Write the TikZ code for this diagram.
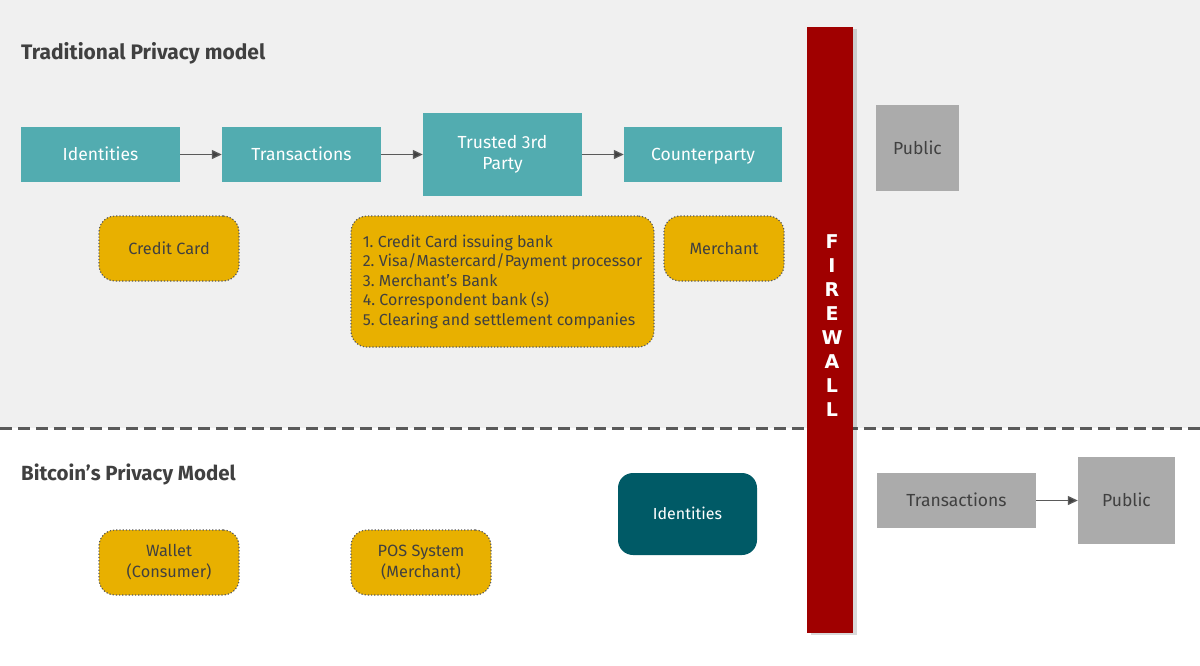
\documentclass[tikz,border=0pt]{standalone}
\usepackage{fontspec}
\setmainfont{Fira Sans}
\newfontfamily\fwfont{DejaVu Sans}
\usetikzlibrary{arrows.meta,shadows}
\definecolor{bgtop}{HTML}{F0F0F0}
\definecolor{tealbox}{HTML}{52ACB0}
\definecolor{darkteal}{HTML}{005A66}
\definecolor{gold}{HTML}{E8B000}
\definecolor{fwred}{HTML}{A00000}
\definecolor{grbox}{HTML}{ABABAB}
\definecolor{txtdark}{HTML}{404040}
\definecolor{linegr}{HTML}{5A5A5A}
\tikzset{
  tealnode/.style={draw=none, fill=tealbox, text=white, minimum width=159pt, minimum height=55pt, inner sep=2pt, align=center, font=\fontsize{17.5}{21}\selectfont},
  goldnode/.style={draw=linegr, dotted, line width=1.2pt, fill=gold, text=txtdark, rounded corners=16pt, minimum width=140pt, minimum height=65pt, align=center, font=\fontsize{16.3}{21}\selectfont},
  graynode/.style={draw=none, fill=grbox, text=txtdark, align=center, font=\fontsize{17.5}{21}\selectfont},
  oneline/.style={text height=#1, text depth=0pt},
  oneline/.default=12pt,
  flowarrow/.style={draw=linegr, line width=1.3pt, -{Triangle[length=10pt,width=9pt,fill=txtdark]}},
  titletext/.style={anchor=west, inner sep=0pt, text=txtdark, font=\bfseries\fontsize{21}{24}\selectfont}
}
\begin{document}
\frenchspacing
\begin{tikzpicture}[x=1pt,y=-1pt]
\useasboundingbox (0,0) rectangle (1200,665);
\fill[bgtop] (0,0) rectangle (1200,428);
\fill[white] (0,428) rectangle (1200,665);
\draw[linegr, line width=3pt, dash pattern=on 12pt off 6pt] (0,428) -- (1200,428);

\node[titletext] (t1) at (21,53) {Traditional Privacy model};
\node[titletext, font=\bfseries\fontsize{20.5}{24}\selectfont] (t2) at (21,474) {Bitcoin’s Privacy Model};

\node[tealnode, oneline] (id) at (100.5,154.5) {Identities};
\node[tealnode, oneline] (tr) at (301.5,154.5) {Transactions};
\node[tealnode, minimum height=83pt] (tp) at (502.5,154.5) {Trusted 3rd\\Party};
\node[tealnode, oneline, minimum width=158pt] (cp) at (703,154.5) {Counterparty};
\draw[flowarrow] (id.east) -- (tr.west);
\draw[flowarrow] (tr.east) -- (tp.west);
\draw[flowarrow] (tp.east) -- (cp.west);

\node[goldnode, oneline=11.2pt] (cc) at (169,248.5) {Credit Card};
\node[goldnode, minimum width=303pt, minimum height=131pt, align=left, font=\fontsize{16}{19.5}\selectfont, inner sep=0pt] (list) at (502.5,281.5) {1. Credit Card issuing bank\\2. Visa/Mastercard/Payment processor\\3. Merchant’s Bank\\4. Correspondent bank (s)\\5. Clearing and settlement companies};
\node[goldnode, oneline=11.2pt, minimum width=120pt] (mc) at (724,248.5) {Merchant};

\node[goldnode] (wal) at (169,562.5) {Wallet\\(Consumer)};
\node[goldnode] (pos) at (421,562.5) {POS System\\(Merchant)};
\node[draw=none, fill=darkteal, text=white, rounded corners=15pt, minimum width=139pt, minimum height=82pt, oneline=11pt, font=\fontsize{16}{20}\selectfont] (id2) at (687.5,514) {Identities};

\node[fill=fwred, minimum width=46pt, minimum height=606pt, inner sep=0pt, drop shadow={shadow xshift=4pt, shadow yshift=-2pt, opacity=0.15, fill=black}] (fw) at (830,330) {};
\node[text=white, align=center, font=\fwfont\bfseries\fontsize{19}{24}\selectfont] (fwt) at (832,326) {F\\I\\R\\E\\W\\A\\L\\L};

\node[graynode, oneline, minimum width=83pt, minimum height=86pt] (pub1) at (917.5,148) {Public};
\node[graynode, oneline, minimum width=159pt, minimum height=55pt] (tr2) at (956.5,500.5) {Transactions};
\node[graynode, oneline, minimum width=97pt, minimum height=87pt] (pub2) at (1126.5,500.5) {Public};
\draw[flowarrow] (tr2.east) -- (pub2.west);
\end{tikzpicture}
\end{document}
